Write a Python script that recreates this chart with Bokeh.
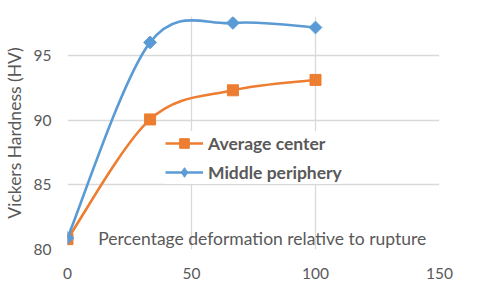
import numpy as np
from bokeh.plotting import figure
from bokeh.models import Legend, LegendItem, Label, FixedTicker, Range1d
from bokeh.embed import file_html
from bokeh.resources import INLINE

x_vals = [0, 33.3, 66.7, 100]
avg_center = [80.8, 90.05, 92.3, 93.1]
mid_periphery = [80.9, 96.0, 97.5, 97.15]
x_ticks = [0, 50, 100, 150]
y_ticks = [80, 85, 90, 95]

ORANGE = "#ED7D31"
BLUE = "#5B9BD5"
GRAY = "#595959"
FONT = "Lato"

p = figure(width=480, height=299, output_backend="svg", toolbar_location=None,
           x_range=Range1d(0, 150), y_range=Range1d(80, 98),
           min_border_left=66, min_border_right=41, min_border_top=16, min_border_bottom=50)
p.outline_line_color = None
p.background_fill_color = "white"

for ax in (p.xaxis[0], p.yaxis[0]):
    ax.axis_line_color = None
    ax.major_tick_line_color = None
    ax.minor_tick_line_color = None
    ax.major_tick_out = 0
    ax.major_tick_in = 0
    ax.minor_tick_out = 0
    ax.minor_tick_in = 0
    ax.major_label_text_font = FONT
    ax.major_label_text_font_size = "15.5px"
    ax.major_label_text_color = GRAY
p.xaxis.ticker = FixedTicker(ticks=x_ticks)
p.yaxis.ticker = FixedTicker(ticks=y_ticks)
p.xaxis.major_label_standoff = 18
p.yaxis.major_label_standoff = 16
p.yaxis.axis_label = "Vickers Hardness (HV)"
p.yaxis.axis_label_text_font = FONT
p.yaxis.axis_label_text_font_size = "17.5px"
p.yaxis.axis_label_text_font_style = "normal"
p.yaxis.axis_label_text_color = GRAY
p.yaxis.axis_label_standoff = 6

p.grid.grid_line_color = "#D9D9D9"
p.grid.grid_line_width = 1.3


def smooth_segments(xs, ys):
    xs = np.asarray(xs, float)
    ys = np.asarray(ys, float)
    n = len(xs)
    x0, y0, x1, y1, cx0, cy0, cx1, cy1 = [], [], [], [], [], [], [], []
    for i in range(n - 1):
        im = max(i - 1, 0)
        ip2 = min(i + 2, n - 1)
        x0.append(xs[i]); y0.append(ys[i])
        x1.append(xs[i + 1]); y1.append(ys[i + 1])
        cx0.append(xs[i] + (xs[i + 1] - xs[im]) / 6)
        cy0.append(ys[i] + (ys[i + 1] - ys[im]) / 6)
        cx1.append(xs[i + 1] - (xs[ip2] - xs[i]) / 6)
        cy1.append(ys[i + 1] - (ys[ip2] - ys[i]) / 6)
    return dict(x0=x0, y0=y0, x1=x1, y1=y1, cx0=cx0, cy0=cy0, cx1=cx1, cy1=cy1)


items = []
for ys, color, marker, size, angle, legend_marker, label in [
    (avg_center, ORANGE, "square", 11, 0, "square", "Average center"),
    (mid_periphery, BLUE, "square", 9, np.pi / 4, "diamond", "Middle periphery"),
]:
    seg = smooth_segments(x_vals, ys)
    bz = p.bezier(x0=seg["x0"], y0=seg["y0"], x1=seg["x1"], y1=seg["y1"],
                  cx0=seg["cx0"], cy0=seg["cy0"], cx1=seg["cx1"], cy1=seg["cy1"],
                  line_color=color, line_width=2.6)
    sc = p.scatter(x_vals, ys, marker=marker, size=size, angle=angle,
                   fill_color=color, line_color=color)
    # legend-only marker (legend glyphs ignore angle), not drawn in the plot
    lg = p.scatter(x_vals, ys, marker=legend_marker, size=size,
                   fill_color=color, line_color=color, visible=False)
    items.append(LegendItem(label=label, renderers=[bz, lg]))

legend = Legend(items=items, location=(98, 65), orientation="vertical",
                label_text_font=FONT, label_text_font_size="17.5px",
                label_text_font_style="bold", label_text_color=GRAY,
                glyph_width=38, glyph_height=24, label_height=24,
                label_standoff=5, spacing=5, padding=0, margin=0,
                border_line_color=None, background_fill_color="white",
                background_fill_alpha=1.0)
p.add_layout(legend, "center")

title = Label(x=12.4, y=80.85, text="Percentage deformation relative to rupture",
              text_font=FONT, text_font_size="17.5px", text_color=GRAY,
              text_baseline="alphabetic", text_align="left")
p.add_layout(title)

open("out.html", "w").write(file_html(p, INLINE))
